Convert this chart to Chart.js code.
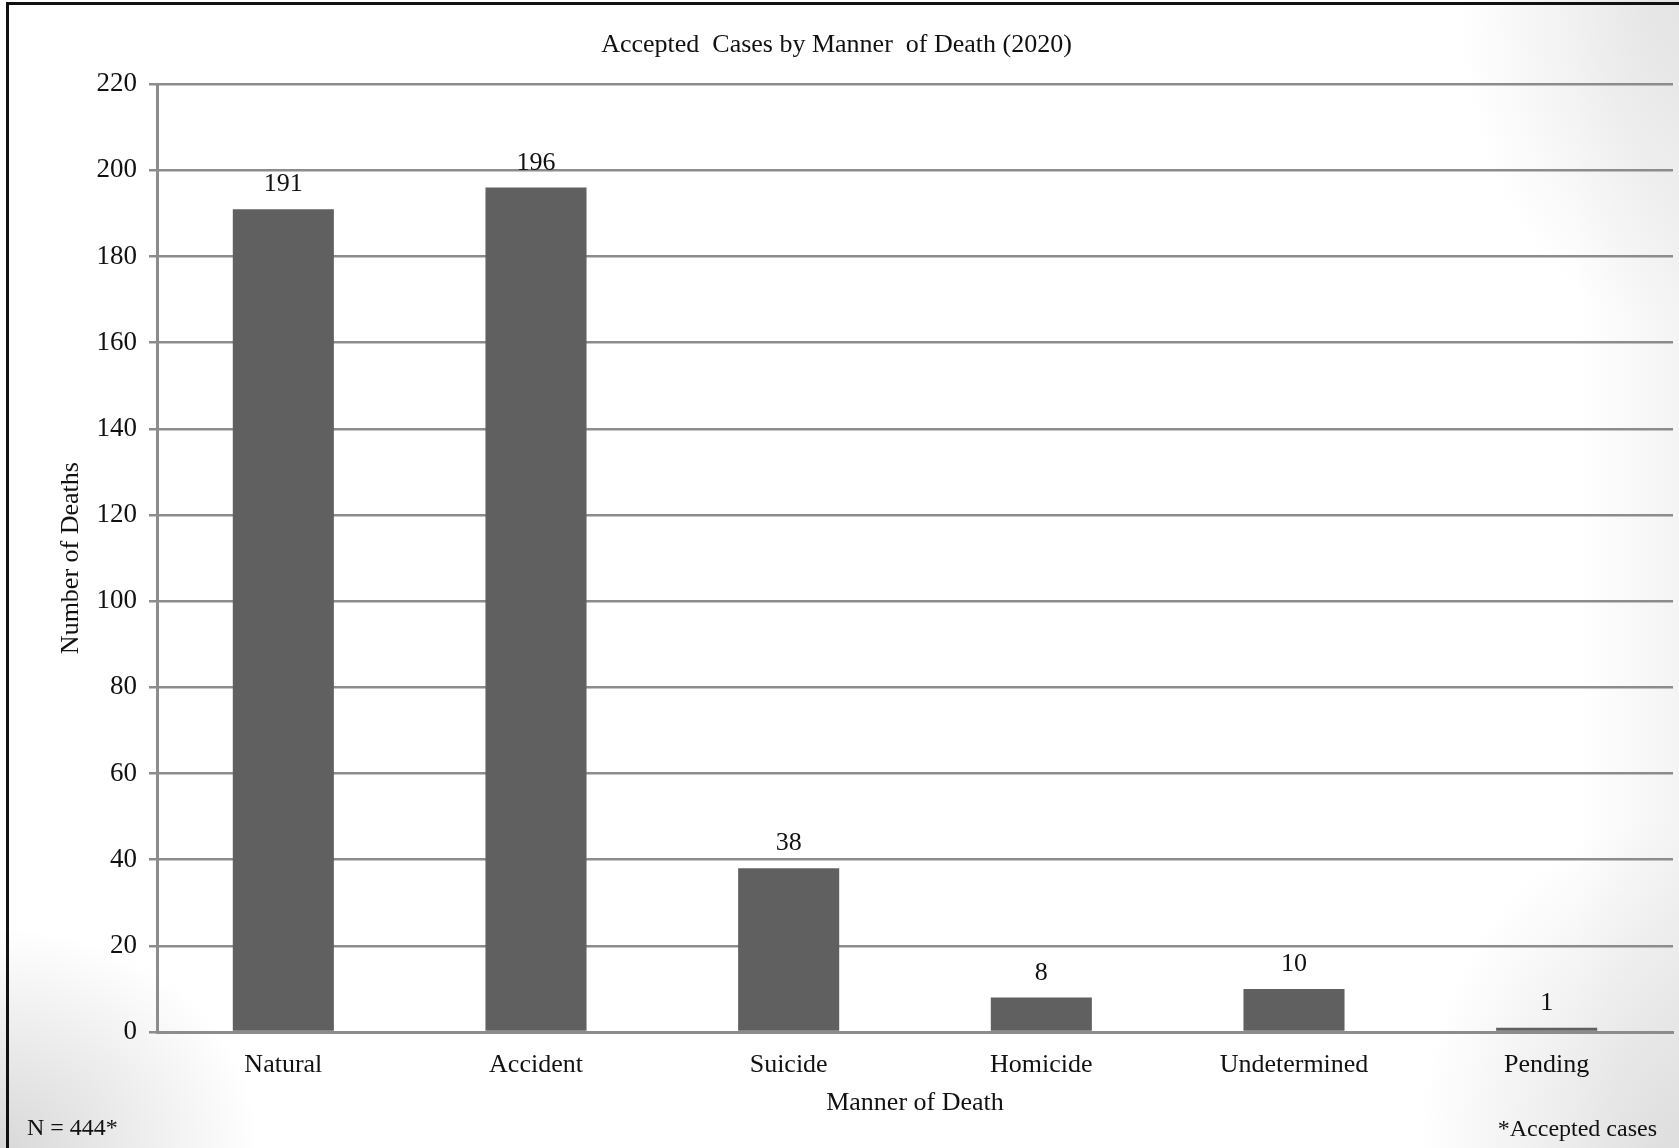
<!DOCTYPE html>
<html>
<head>
<meta charset="utf-8">
<script src="https://cdn.jsdelivr.net/npm/chart.js@4.4.1/dist/chart.umd.min.js"></script>
<style>
  html, body { margin: 0; padding: 0; }
  body {
    width: 1679px; height: 1148px; overflow: hidden; position: relative;
    background:
      radial-gradient(ellipse 220px 330px at 100% 0%, rgba(228,228,228,1), rgba(255,255,255,0) 100%),
      radial-gradient(ellipse 260px 330px at 100% 100%, rgba(222,222,222,1), rgba(255,255,255,0) 100%),
      radial-gradient(ellipse 260px 220px at 0% 100%, rgba(212,212,212,0.9), rgba(255,255,255,0) 100%),
      linear-gradient(to right, rgba(255,255,255,0) 94%, rgba(244,244,244,1) 100%),
      #ffffff;
  }
  .frame {
    position: absolute; left: 6px; top: 2px; right: -10px; bottom: -10px;
    border-left: 3px solid #111; border-top: 3px solid #111;
  }
  .wrap { position: absolute; left: 0; top: 0; width: 1679px; height: 1148px; }
  .note { position: absolute; font-family: 'Liberation Serif', serif; font-size: 24px; color: #111; }
</style>
</head>
<body>
<div class="frame"></div>
<div class="wrap"><canvas id="barchart"></canvas></div>
<div class="note" style="left:27px; top:1114px;">N = 444*</div>
<div class="note" style="right:22px; top:1115px;">*Accepted cases</div>
<script>
const categories = ['Natural', 'Accident', 'Suicide', 'Homicide', 'Undetermined', 'Pending'];
const deaths = [191, 196, 38, 8, 10, 1];
const yTicks = [0, 20, 40, 60, 80, 100, 120, 140, 160, 180, 200, 220];

const serif = "'Liberation Serif', 'Times New Roman', serif";
const gridGray = '#8c8c8c';

// writes the count above every bar
const valueLabels = {
  id: 'valueLabels',
  afterDatasetsDraw(chart) {
    const ctx = chart.ctx;
    const meta = chart.getDatasetMeta(0);
    ctx.save();
    ctx.font = '26px ' + serif;
    ctx.fillStyle = '#111';
    ctx.textAlign = 'center';
    ctx.textBaseline = 'alphabetic';
    meta.data.forEach((bar, i) => {
      ctx.fillText(String(deaths[i]), bar.x, bar.y - 18);
    });
    ctx.restore();
  }
};

const ctx = document.getElementById('barchart');

const barchart = new Chart(ctx, {
  type: 'bar',
  data: {
    labels: categories,
    datasets: [{
      label: 'Number of Deaths',
      data: deaths,
      backgroundColor: '#606060',
      borderWidth: 0,
      barPercentage: 0.8,
      categoryPercentage: 0.5
    }]
  },
  options: {
    responsive: true,
    maintainAspectRatio: false,
    animation: false,
    layout: { padding: { left: 0, right: 6, top: 0, bottom: 0 } },
    plugins: {
      legend: { display: false },
      tooltip: { enabled: false },
      title: {
        display: true,
        text: 'Accepted  Cases by Manner  of Death (2020)',
        color: '#111',
        font: { family: serif, size: 26, weight: 'normal' },
        padding: { top: 30, bottom: 23 }
      }
    },
    scales: {
      x: {
        grid: { display: false, drawTicks: false },
        border: { display: true, color: gridGray, width: 3 },
        ticks: { color: '#111', font: { family: serif, size: 26 }, padding: 18, maxRotation: 0 },
        title: {
          display: true,
          text: 'Manner of Death',
          color: '#111',
          font: { family: serif, size: 26 },
          padding: { top: 0, bottom: 29 }
        },
        afterFit(scale) { scale.height = 116; }
      },
      y: {
        min: 0,
        max: 220,
        afterBuildTicks(scale) { scale.ticks = yTicks.map(v => ({ value: v })); },
        grid: { color: gridGray, lineWidth: 2.5, tickLength: 8, drawTicks: true },
        border: { display: true, color: gridGray, width: 3 },
        ticks: { color: '#111', font: { family: serif, size: 27 }, padding: 12 },
        title: {
          display: true,
          text: 'Number of Deaths',
          color: '#111',
          font: { family: serif, size: 26 },
          padding: { top: 56, bottom: 0 }
        },
        afterFit(scale) { scale.width = 157; }
      }
    }
  },
  plugins: [valueLabels]
});
</script>
</body>
</html>
